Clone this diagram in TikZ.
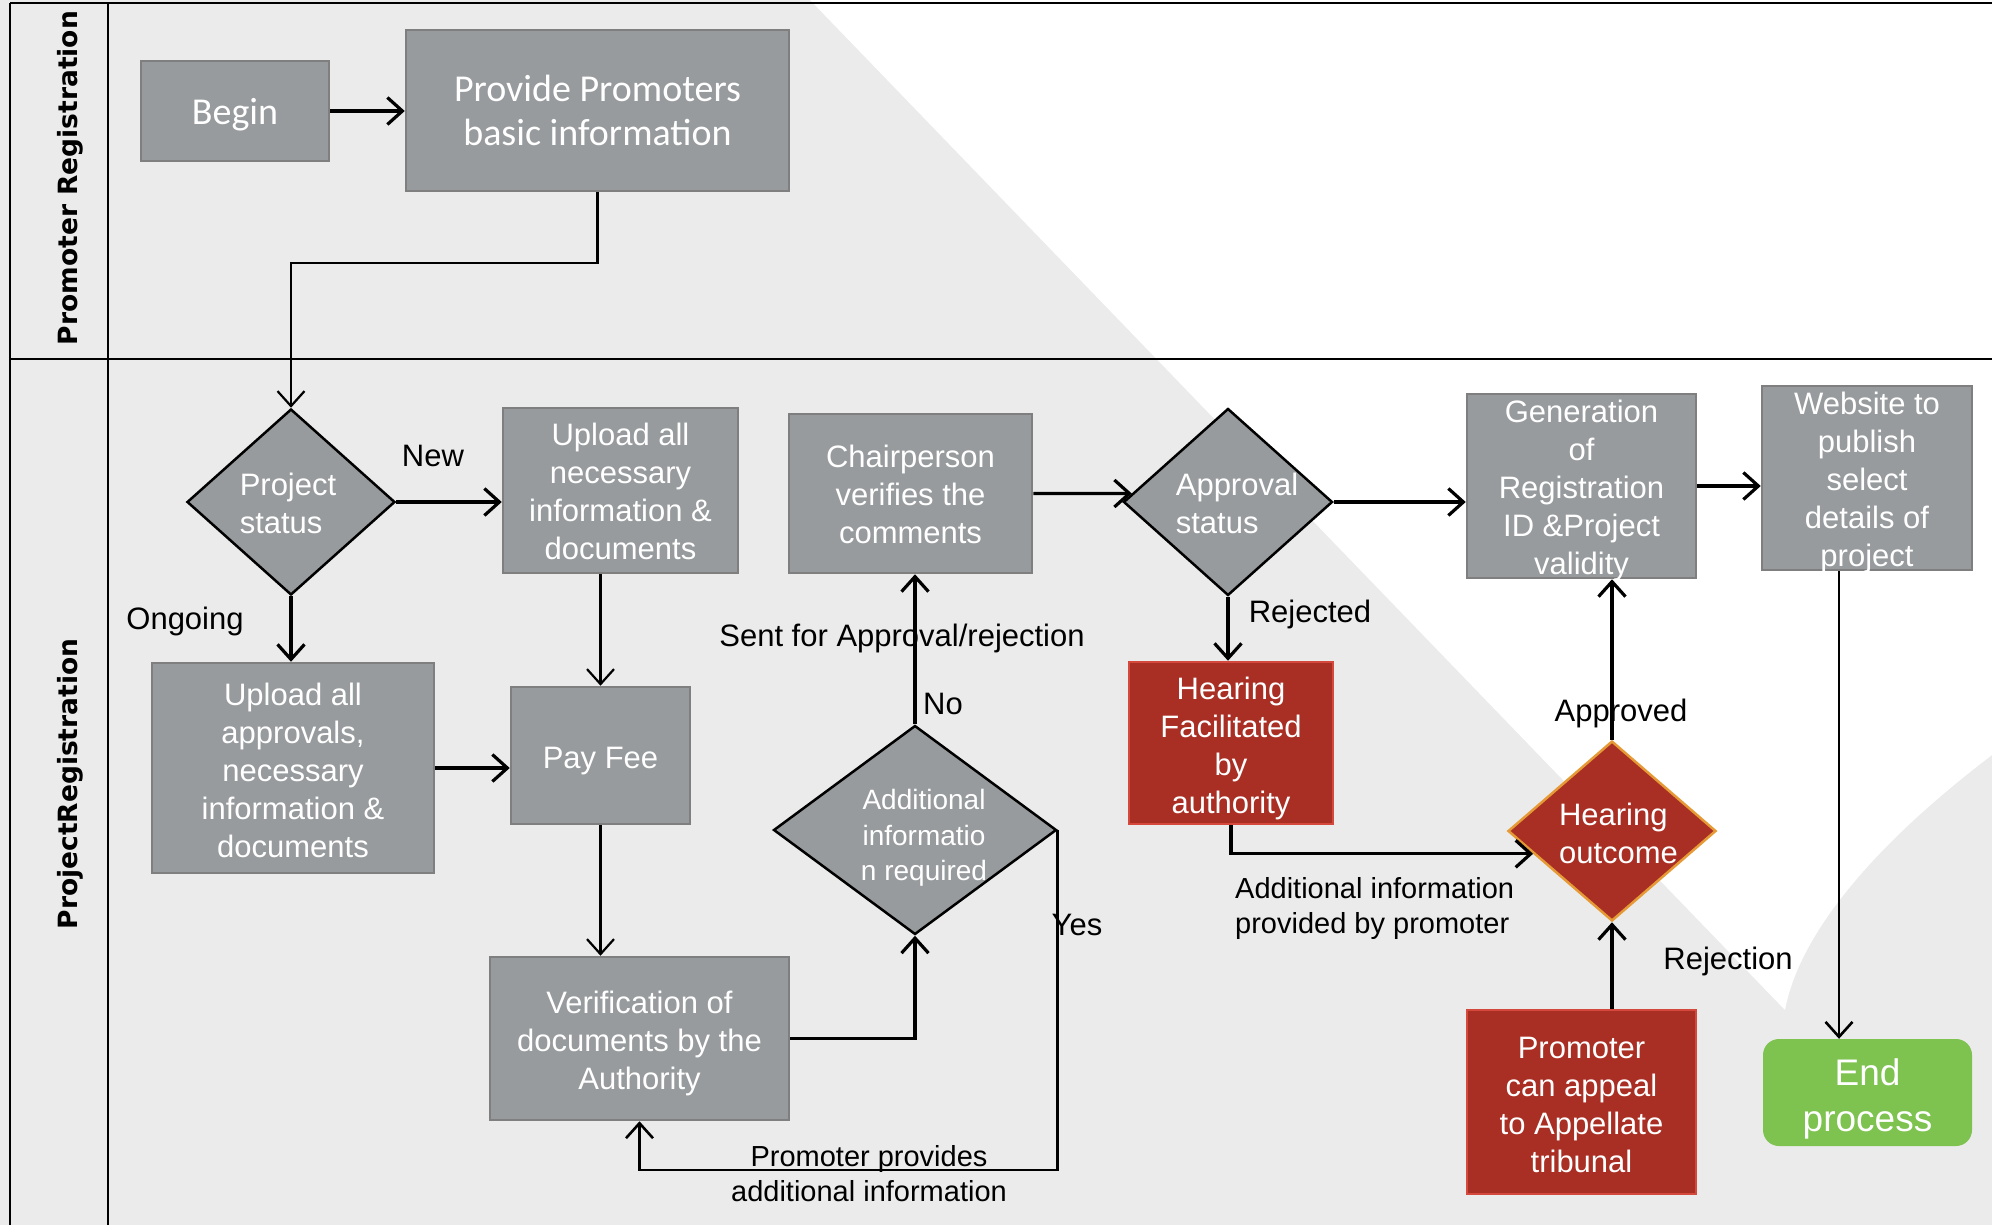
\documentclass[tikz,border=0pt]{standalone}
\usepackage{fontspec}
\setmainfont{Liberation Sans}
\newfontfamily\calfont{Carlito}
\newfontfamily\lanefont{DejaVu Sans}
\usetikzlibrary{arrows.meta,shapes.geometric,calc}
\definecolor{bg}{HTML}{EBEBEB}
\definecolor{boxfill}{HTML}{979B9D}
\definecolor{boxline}{HTML}{7F7F7F}
\definecolor{redfill}{HTML}{A92E24}
\definecolor{redline}{HTML}{D5493C}
\definecolor{orangeline}{HTML}{E69A35}
\definecolor{greenfill}{HTML}{7EC24F}
\begin{document}
\begin{tikzpicture}[x=1pt,y=-1pt,
  gbox/.style={draw=boxline,fill=boxfill,line width=2.5pt,inner sep=0pt},
  rbox/.style={draw=redline,fill=redfill,line width=2.5pt,inner sep=0pt},
  gdia/.style={diamond,draw=black,fill=boxfill,line width=2.5pt,inner sep=0pt},
  rdia/.style={diamond,draw=orangeline,fill=redfill,line width=2.5pt,inner sep=0pt},
  wtxt/.style={text=white,align=center,inner sep=0pt,font=\fontsize{31}{38}\selectfont},
  ctxt/.style={text=white,align=center,inner sep=0pt,font=\calfont\fontsize{38}{44}\selectfont},
  lbl/.style={text=black,inner sep=0pt,font=\fontsize{31}{38}\selectfont},
  slbl/.style={text=black,inner sep=0pt,font=\fontsize{29}{35}\selectfont},
  lane/.style={text=black,inner sep=0pt,rotate=90,font=\lanefont\bfseries\fontsize{26.5}{30}\selectfont},
  arr/.style={line width=3.2pt,-{Straight Barb[length=15pt,width=27pt]}},
  arrt/.style={line width=2.2pt,-{Straight Barb[length=15pt,width=27pt]}},
  lanel/.style={line width=2.2pt,black}]
\useasboundingbox (0,0) rectangle (1992,1225);
% background
\fill[bg] (0,0) rectangle (1992,1225);
\fill[white] (810,0) -- (1992,0) -- (1992,755) .. controls (1880,840) and (1800,930) .. (1785,1010) -- cycle;
% lanes
\draw[lanel] (10,3) -- (1992,3);
\draw[lanel] (10,359) -- (1992,359);
\draw[lanel] (10,3) -- (10,1225);
\draw[lanel] (108,3) -- (108,1225);
\node[lane] (lane1) at (70,178) {Promoter Registration};
\node[lane] (lane2) at (70,784) {ProjectRegistration};
% nodes
\node[gbox,minimum width=188pt,minimum height=100pt] (begin) at (235,111) {};
\node[ctxt] (begin-t) at ($(begin)+(0,4)$) {Begin};
\node[gbox,minimum width=383pt,minimum height=161pt] (prov) at (597.5,110.5) {};
\node[ctxt] (prov-t) at (prov) {Provide Promoters\\basic information};
\node[gdia,minimum width=208pt,minimum height=186pt] (ps) at (291,502) {};
\node[wtxt,align=left] (ps-t) at ($(ps)+(-3,1)$) {Project\\status};
\node[gbox,minimum width=235pt,minimum height=165pt] (upl) at (620.5,490.5) {};
\node[wtxt] (upl-t) at ($(upl)+(0,1)$) {Upload all\\necessary\\information \&\\documents};
\node[gbox,minimum width=282pt,minimum height=210pt] (apr) at (293,768) {};
\node[wtxt] (apr-t) at ($(apr)+(0,2)$) {Upload all\\approvals,\\necessary\\information \&\\documents};
\node[gbox,minimum width=179pt,minimum height=137pt] (pay) at (600.5,755.5) {};
\node[wtxt] (pay-t) at ($(pay)+(0,6)$) {Pay Fee};
\node[gbox,minimum width=299pt,minimum height=163pt] (ver) at (639.5,1038.5) {};
\node[wtxt] (ver-t) at ($(ver)+(0,5)$) {Verification of\\documents by the\\Authority};
\node[gdia,minimum width=283pt,minimum height=209pt] (add) at (915,830) {};
\node[wtxt,font=\fontsize{28}{35.5}\selectfont] (add-t) at ($(add)+(9,8)$) {Additional\\informatio\\n required};
\node[gbox,minimum width=243pt,minimum height=159pt] (chair) at (910.5,493.5) {};
\node[wtxt] (chair-t) at ($(chair)+(0,1)$) {Chairperson\\verifies the\\comments};
\node[gdia,minimum width=209pt,minimum height=187pt] (apd) at (1228,502) {};
\node[wtxt,align=left] (apd-t) at ($(apd)+(9,1)$) {Approval\\status};
\node[rbox,minimum width=204pt,minimum height=162pt] (hf) at (1231,743) {};
\node[wtxt] (hf-t) at ($(hf)+(0,5)$) {Hearing\\Facilitated\\by\\authority};
\node[gbox,minimum width=229pt,minimum height=184pt] (gen) at (1581.5,486) {};
\node[wtxt] (gen-t) at ($(gen)+(0,4)$) {Generation\\of\\Registration\\ID \&Project\\validity};
\node[gbox,minimum width=210pt,minimum height=184pt] (web) at (1867,478) {};
\node[wtxt] (web-t) at ($(web)+(0,4)$) {Website to\\publish\\select\\details of\\project};
\node[fill=greenfill,rounded corners=16pt,inner sep=0pt,minimum width=209pt,minimum height=107pt] (endp) at (1867.5,1092.5) {};
\node[wtxt,font=\fontsize{37}{46}\selectfont] (endp-t) at ($(endp)+(0,6)$) {End\\process};
\node[rdia,minimum width=208pt,minimum height=180pt] (ho) at (1612,831) {};
\node[wtxt,align=left] (ho-t) at ($(ho)+(6.5,2)$) {Hearing\\outcome};
\node[rbox,minimum width=229pt,minimum height=184pt] (app) at (1581.5,1102) {};
\node[wtxt] (app-t) at ($(app)+(0,3)$) {Promoter\\can appeal\\to Appellate\\tribunal};
% labels
\node[lbl] (l-new) at (433,456) {New};
\node[lbl] (l-ong) at (185,621) {Ongoing};
\node[lbl] (l-sent) at (902,638) {Sent for Approval/rejection};
\node[lbl] (l-no) at (943,704) {No};
\node[lbl] (l-yes) at (1077,925) {Yes};
\node[slbl,align=center] (l-prom) at (869,1174) {Promoter provides\\additional information};
\node[lbl] (l-rej) at (1310,614) {Rejected};
\node[lbl] (l-apv) at (1621,713) {Approved};
\node[slbl,align=left,anchor=west] (l-addi) at (1235,908) {Additional information\\provided by promoter};
\node[lbl] (l-rejn) at (1728,961) {Rejection};
% helper coordinates
\coordinate (yl) at (0,1170);
\coordinate (we) at (1839,0);
% connectors
\draw[arr] (begin.east) -- (prov.west |- begin.east);
\draw[arrt] (prov.south) -- ++(0,71) -| (ps.north);
\draw[arr] (ps.east) -- (ps.east -| upl.west);
\draw[arr] (ps.south) -- (ps.south |- apr.north);
\draw[arrt] (pay.north |- upl.south) -- (pay.north);
\draw[arr] (apr.east) -- (apr.east -| pay.west);
\draw[arrt] (pay.south) -- (pay.south |- ver.north);
\draw[arr] (ver.east) -| (add.south);
\draw[arr] (add.north) -- (add.north |- chair.south);
\draw[arrt,line width=2.6pt] (add.east) -- (add.east |- yl) -| (ver.south);
\draw[arr] (chair.east) -- ($(apd.west)!0.09!(apd.north)$);
\draw[arr] (apd.east) -- (apd.east -| gen.west);
\draw[arr] (gen.east) -- (gen.east -| web.west);
\draw[arr] (apd.south) -- (apd.south |- hf.north);
\draw[arr] (hf.south) |- ($(ho.west)!0.25!(ho.south)$);
\draw[arr] (ho.north) -- (ho.north |- gen.south);
\draw[arr] (ho.south |- app.north) -- (ho.south);
\draw[arrt,line width=2.6pt] (we |- web.south) -- (we |- endp.north);
\end{tikzpicture}
\end{document}
